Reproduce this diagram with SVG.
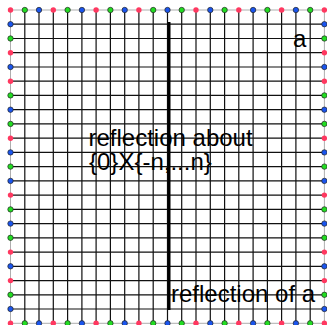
<svg xmlns="http://www.w3.org/2000/svg" width="327" height="325" viewBox="0 0 327 325">
<style>
.grid{stroke:#111;stroke-width:1.2;fill:none}
.edge{stroke:#999;stroke-width:0.8;fill:none}
.thick{stroke:#000;stroke-width:3;fill:none}
.r{fill:#ff3860}
.g{fill:#22dd22;stroke:#222;stroke-width:0.7}
.b{fill:#1a55ee;stroke:#222;stroke-width:0.7}
text{font-family:"Liberation Sans",Arial,sans-serif;font-size:24px;fill:#000}
</style>
<rect width="327" height="325" fill="#fff"/>
<g id="grid">
<path class="edge" d="M10.5 10H324.4M10.5 323.3H324.4M10.5 10V323.3M324.4 10V323.3"/>
<path class="grid" d="M24.8 10V323.3M39 10V323.3M53.3 10V323.3M67.6 10V323.3M81.9 10V323.3M96.1 10V323.3M110.4 10V323.3M124.7 10V323.3M138.9 10V323.3M153.2 10V323.3M167.5 10V323.3M181.7 10V323.3M196 10V323.3M210.3 10V323.3M224.6 10V323.3M238.8 10V323.3M253.1 10V323.3M267.4 10V323.3M281.6 10V323.3M295.9 10V323.3M310.2 10V323.3"/>
<path class="grid" d="M10.5 24.2H324.4M10.5 38.5H324.4M10.5 52.7H324.4M10.5 67H324.4M10.5 81.2H324.4M10.5 95.4H324.4M10.5 109.7H324.4M10.5 123.9H324.4M10.5 138.2H324.4M10.5 152.4H324.4M10.5 166.6H324.4M10.5 180.9H324.4M10.5 195.1H324.4M10.5 209.4H324.4M10.5 223.6H324.4M10.5 237.8H324.4M10.5 252.1H324.4M10.5 266.3H324.4M10.5 280.6H324.4M10.5 294.8H324.4M10.5 309H324.4"/>
</g>
<g id="connectors">
<path class="thick" d="M169 22V310"/>
</g>
<g id="dots-top">
<circle class="r" cx="10.5" cy="10" r="2.7"/><circle class="g" cx="24.8" cy="10" r="2.7"/><circle class="b" cx="39" cy="10" r="2.7"/><circle class="r" cx="53.3" cy="10" r="2.7"/><circle class="g" cx="67.6" cy="10" r="2.7"/><circle class="b" cx="81.9" cy="10" r="2.7"/><circle class="r" cx="96.1" cy="10" r="2.7"/><circle class="g" cx="110.4" cy="10" r="2.7"/><circle class="b" cx="124.7" cy="10" r="2.7"/><circle class="r" cx="138.9" cy="10" r="2.7"/><circle class="g" cx="153.2" cy="10" r="2.7"/><circle class="b" cx="167.5" cy="10" r="2.7"/><circle class="g" cx="181.7" cy="10" r="2.7"/><circle class="r" cx="196" cy="10" r="2.7"/><circle class="b" cx="210.3" cy="10" r="2.7"/><circle class="g" cx="224.6" cy="10" r="2.7"/><circle class="r" cx="238.8" cy="10" r="2.7"/><circle class="b" cx="253.1" cy="10" r="2.7"/><circle class="g" cx="267.4" cy="10" r="2.7"/><circle class="r" cx="281.6" cy="10" r="2.7"/><circle class="b" cx="295.9" cy="10" r="2.7"/><circle class="g" cx="310.2" cy="10" r="2.7"/><circle class="r" cx="324.4" cy="10" r="2.7"/>
</g>
<g id="dots-bottom">
<circle class="r" cx="10.5" cy="323.3" r="2.7"/><circle class="g" cx="24.8" cy="323.3" r="2.7"/><circle class="b" cx="39" cy="323.3" r="2.7"/><circle class="r" cx="53.3" cy="323.3" r="2.7"/><circle class="g" cx="67.6" cy="323.3" r="2.7"/><circle class="b" cx="81.9" cy="323.3" r="2.7"/><circle class="r" cx="96.1" cy="323.3" r="2.7"/><circle class="g" cx="110.4" cy="323.3" r="2.7"/><circle class="b" cx="124.7" cy="323.3" r="2.7"/><circle class="r" cx="138.9" cy="323.3" r="2.7"/><circle class="g" cx="153.2" cy="323.3" r="2.7"/><circle class="b" cx="167.5" cy="323.3" r="2.7"/><circle class="g" cx="181.7" cy="323.3" r="2.7"/><circle class="r" cx="196" cy="323.3" r="2.7"/><circle class="b" cx="210.3" cy="323.3" r="2.7"/><circle class="g" cx="224.6" cy="323.3" r="2.7"/><circle class="r" cx="238.8" cy="323.3" r="2.7"/><circle class="b" cx="253.1" cy="323.3" r="2.7"/><circle class="g" cx="267.4" cy="323.3" r="2.7"/><circle class="r" cx="281.6" cy="323.3" r="2.7"/><circle class="b" cx="295.9" cy="323.3" r="2.7"/><circle class="g" cx="310.2" cy="323.3" r="2.7"/><circle class="r" cx="324.4" cy="323.3" r="2.7"/>
</g>
<g id="dots-left">
<circle class="b" cx="10.5" cy="24.2" r="2.7"/><circle class="g" cx="10.5" cy="38.5" r="2.7"/><circle class="r" cx="10.5" cy="52.7" r="2.7"/><circle class="b" cx="10.5" cy="67" r="2.7"/><circle class="r" cx="10.5" cy="81.2" r="2.7"/><circle class="g" cx="10.5" cy="95.4" r="2.7"/><circle class="b" cx="10.5" cy="109.7" r="2.7"/><circle class="g" cx="10.5" cy="123.9" r="2.7"/><circle class="r" cx="10.5" cy="138.2" r="2.7"/><circle class="b" cx="10.5" cy="152.4" r="2.7"/><circle class="g" cx="10.5" cy="166.6" r="2.7"/><circle class="b" cx="10.5" cy="180.9" r="2.7"/><circle class="r" cx="10.5" cy="195.1" r="2.7"/><circle class="g" cx="10.5" cy="209.4" r="2.7"/><circle class="b" cx="10.5" cy="223.6" r="2.7"/><circle class="g" cx="10.5" cy="237.8" r="2.7"/><circle class="r" cx="10.5" cy="252.1" r="2.7"/><circle class="b" cx="10.5" cy="266.3" r="2.7"/><circle class="r" cx="10.5" cy="280.6" r="2.7"/><circle class="g" cx="10.5" cy="294.8" r="2.7"/><circle class="b" cx="10.5" cy="309" r="2.7"/>
</g>
<g id="dots-right">
<circle class="b" cx="324.4" cy="24.2" r="2.7"/><circle class="g" cx="324.4" cy="38.5" r="2.7"/><circle class="r" cx="324.4" cy="52.7" r="2.7"/><circle class="b" cx="324.4" cy="67" r="2.7"/><circle class="r" cx="324.4" cy="81.2" r="2.7"/><circle class="g" cx="324.4" cy="95.4" r="2.7"/><circle class="b" cx="324.4" cy="109.7" r="2.7"/><circle class="g" cx="324.4" cy="123.9" r="2.7"/><circle class="r" cx="324.4" cy="138.2" r="2.7"/><circle class="b" cx="324.4" cy="152.4" r="2.7"/><circle class="g" cx="324.4" cy="166.6" r="2.7"/><circle class="b" cx="324.4" cy="180.9" r="2.7"/><circle class="r" cx="324.4" cy="195.1" r="2.7"/><circle class="g" cx="324.4" cy="209.4" r="2.7"/><circle class="b" cx="324.4" cy="223.6" r="2.7"/><circle class="g" cx="324.4" cy="237.8" r="2.7"/><circle class="r" cx="324.4" cy="252.1" r="2.7"/><circle class="b" cx="324.4" cy="266.3" r="2.7"/><circle class="r" cx="324.4" cy="280.6" r="2.7"/><circle class="g" cx="324.4" cy="294.8" r="2.7"/><circle class="b" cx="324.4" cy="309" r="2.7"/>
</g>
<g id="labels">
<text x="293" y="47">a</text>
<text x="88.5" y="146">reflection about</text>
<text x="89" y="170">{0}X{-n,...n}</text>
<text x="171" y="302">reflection of a</text>
</g>
</svg>
